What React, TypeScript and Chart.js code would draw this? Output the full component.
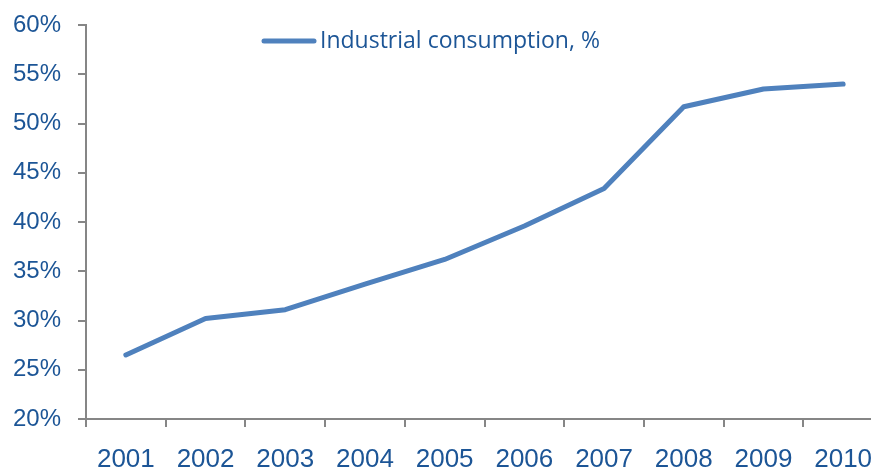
import React, { useEffect, useRef } from "react";
import { Chart, registerables } from "chart.js";

Chart.register(...registerables);

const years = ["2001", "2002", "2003", "2004", "2005", "2006", "2007", "2008", "2009", "2010"];
const industrialShare = [26.5, 30.2, 31.1, 33.7, 36.2, 39.6, 43.4, 51.7, 53.5, 54.0];
const seriesLabel = "Industrial consumption, %";
const yMin = 20;
const yMax = 60;
const yStep = 5;

const LINE_COLOR = "#4F81BD";
const TEXT_COLOR = "#1C5596";
const AXIS_COLOR = "#868686";

const legendPlugin = {
  id: "customLegend",
  afterDraw(chart: any) {
    const ctx = chart.ctx;
    ctx.save();
    ctx.strokeStyle = LINE_COLOR;
    ctx.lineWidth = 5;
    ctx.lineCap = "round";
    ctx.beginPath();
    ctx.moveTo(264, 41);
    ctx.lineTo(314, 41);
    ctx.stroke();
    ctx.fillStyle = TEXT_COLOR;
    ctx.font = "23px 'Open Sans'";
    ctx.textBaseline = "middle";
    ctx.textAlign = "left";
    ctx.fillText(seriesLabel, 320, 41);
    ctx.restore();
  },
};

export default function App() {
  const ref = useRef<HTMLCanvasElement>(null);
  useEffect(() => {
    if (!ref.current) return;
    const chart = new Chart(ref.current, {
      type: "line",
      data: {
        labels: years,
        datasets: [
          {
            label: seriesLabel,
            data: industrialShare,
            borderColor: LINE_COLOR,
            backgroundColor: LINE_COLOR,
            borderWidth: 5,
            pointRadius: 0,
            tension: 0,
            borderCapStyle: "round",
            borderJoinStyle: "round",
          },
        ],
      },
      options: {
        responsive: false,
        animation: false,
        layout: { autoPadding: false, padding: { left: 0, right: 1, top: 25, bottom: 0 } },
        plugins: { legend: { display: false }, tooltip: { enabled: false } },
        scales: {
          x: {
            offset: true,
            grid: {
              offset: true,
              drawOnChartArea: false,
              drawTicks: true,
              tickLength: 8,
              color: AXIS_COLOR,
              lineWidth: 2,
            },
            border: { color: AXIS_COLOR, width: 2 },
            ticks: {
              color: TEXT_COLOR,
              font: { family: "'Liberation Sans', Arial", size: 26 },
              padding: 17,
              maxRotation: 0,
              autoSkip: false,
            },
            afterFit(scale: any) {
              scale.height = 51;
              scale.paddingLeft = 0;
              scale.paddingRight = 0;
            },
          },
          y: {
            min: yMin,
            max: yMax,
            grid: {
              drawOnChartArea: false,
              drawTicks: true,
              tickLength: 8,
              color: AXIS_COLOR,
              lineWidth: 2,
            },
            border: { color: AXIS_COLOR, width: 2 },
            ticks: {
              stepSize: yStep,
              color: TEXT_COLOR,
              font: { family: "'Liberation Sans', Arial", size: 24 },
              padding: 17,
              callback: (v: any) => `${v}%`,
            },
            afterFit(scale: any) {
              scale.width = 86;
              scale.paddingTop = 0;
              scale.paddingBottom = 0;
            },
          },
        },
      },
      plugins: [legendPlugin],
    });
    return () => chart.destroy();
  }, []);
  return (
    <div
      style={{
        position: "fixed",
        left: 0,
        top: 0,
        width: 871,
        height: 470,
        overflow: "hidden",
        background: "#fff",
      }}
    >
      <canvas ref={ref} width={884} height={470} style={{ width: 884, height: 470, display: "block" }} />
    </div>
  );
}
